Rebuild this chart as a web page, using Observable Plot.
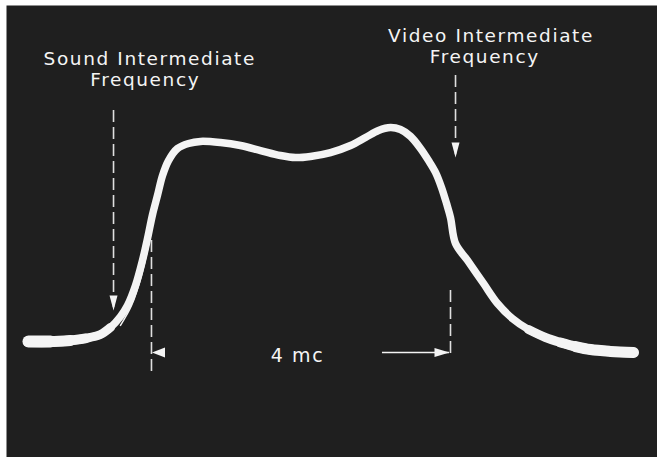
<!DOCTYPE html>
<html><head><meta charset="utf-8">
<script src="https://cdn.jsdelivr.net/npm/d3@7"></script>
<script src="https://cdn.jsdelivr.net/npm/@observablehq/plot@0.6"></script>
<style>html,body{margin:0;padding:0;background:#fff;} svg{display:block}</style>
</head><body><div id="chart"></div>
<script>
// Frequency offset (mc) relative to the left 4-mc marker, and relative response (%)
const freq = [-1.627,-1.333,-1.067,-0.867,-0.667,-0.533,-0.4,-0.307,-0.2,-0.107,-0.04,0.027,0.093,0.16,0.24,0.36,0.507,0.667,0.933,1.2,1.467,1.733,1.933,2.133,2.4,2.667,2.867,3.04,3.2,3.333,3.467,3.6,3.707,3.8,3.88,3.947,4.0,4.067,4.227,4.44,4.627,4.827,5.04,5.267,5.467,5.667,5.867,6.133,6.44];
const resp = [6.1,6.1,6.6,7.5,9.2,12.3,17.1,21.9,30.7,41.7,51.3,61.8,70.2,78.9,85.5,90.8,93.0,93.9,93.4,92.1,89.9,87.7,86.8,87.3,89.0,92.1,95.6,98.7,100,99.1,96.1,90.8,85.5,80.3,73.7,66.7,60.5,49.1,41.7,31.6,22.8,16.2,11.4,7.9,5.7,3.9,2.6,1.8,1.3];

// faint double trace on the rising edge
const ghostFreq = [0.0,-0.12,-0.253,-0.4];
const ghostResp = [52.6,35.1,21.9,13.2];

// dashed marker lines
const markerX      = [-0.493, 4.067, 0.013, 4.0];
const markerTop    = [107.5, 122.8, 50.4, 28.5];
const markerBottom = [21, 88, -7.5, 0.9];

// arrow heads
const arrowX   = [-0.493, 4.067, 0.02, 3.987];
const arrowY   = [19.7, 86.8, 1.3, 1.3];
const arrowDir = ["down", "down", "left", "right"];

// horizontal 4 mc arrow shaft
const spanFrom = 3.093, spanTo = 3.987, spanLevel = 1.3;

// labels
const labelText = ["Sound Intermediate", "Frequency", "Video Intermediate", "Frequency", "4 mc"];
const labelX    = [-0.01, -0.07, 4.54, 4.457, 1.96];
const labelY    = [130.2, 120.6, 140.3, 130.7, 0.0];
const labelSize = [18.5, 18.5, 18.5, 18.5, 19];

const trace = freq.map((f, i) => ({f, r: resp[i]}));
const ghost = ghostFreq.map((f, i) => ({f, r: ghostResp[i]}));
const markers = markerX.map((x, i) => ({x, y1: markerTop[i], y2: markerBottom[i]}));
const arrows = arrowX.map((x, i) => ({x, y: arrowY[i], dir: arrowDir[i]}));
const labels = labelText.map((t, i) => ({t, x: labelX[i], y: labelY[i], s: labelSize[i]}));

function head(dir, w, h) {
  return {draw(ctx) {
    if (dir === "down") { ctx.moveTo(0,0); ctx.lineTo(-w/2,-h); ctx.lineTo(w/2,-h); }
    else if (dir === "left") { ctx.moveTo(0,0); ctx.lineTo(h,-w/2); ctx.lineTo(h,w/2); }
    else { ctx.moveTo(0,0); ctx.lineTo(-h,-w/2); ctx.lineTo(-h,w/2); }
    ctx.closePath();
  }};
}

const ink = "#f4f4f4";
const font = "'DejaVu Sans', sans-serif";

// the trace glows thicker where the beam lingers on the flat tails
const tailLayers = [
  {test: d => d.f <= -0.5 || d.f >= 5.0, w: 9},
  {test: d => d.f <= -0.75 || d.f >= 5.3, w: 10},
  {test: d => d.f <= -1.05 || d.f >= 5.6, w: 11},
  {test: d => d.f <= -1.3, w: 12}
];
const tailMarks = tailLayers.flatMap(({test, w}) => [
  Plot.line(trace, {filter: d => test(d) && d.f < 2, x: "f", y: "r", stroke: ink, strokeWidth: w, curve: "catmull-rom", strokeLinecap: "round"}),
  Plot.line(trace, {filter: d => test(d) && d.f > 2, x: "f", y: "r", stroke: ink, strokeWidth: w, curve: "catmull-rom", strokeLinecap: "round"})
]);

const chart = Plot.plot({
  width: 657, height: 457,
  marginLeft: 6, marginTop: 5, marginRight: 0, marginBottom: 0,
  x: {domain: [-1.92, 6.76], axis: null},
  y: {domain: [-44.74, 153.51], axis: null},
  style: {background: "#ffffff", fontFamily: font, letterSpacing: "1.6px"},
  marks: [
    Plot.frame({fill: "#1f1f1f", stroke: "none"}),
    Plot.ruleX(markers, {x: "x", y1: "y1", y2: "y2", stroke: ink, strokeWidth: 1.6, strokeDasharray: "12,5", strokeOpacity: 0.9}),
    Plot.ruleY([spanLevel], {x1: spanFrom, x2: spanTo, stroke: ink, strokeWidth: 1.6}),
    Plot.line(ghost, {x: "f", y: "r", stroke: ink, strokeWidth: 1.5, curve: "catmull-rom"}),
    Plot.line(trace, {x: "f", y: "r", stroke: ink, strokeWidth: 7.5, curve: "catmull-rom", strokeLinecap: "round", strokeLinejoin: "round"}),
    ...tailMarks,
    Plot.dot(arrows, {filter: d => d.dir === "down", x: "x", y: "y", symbol: head("down", 8, 15), fill: ink, stroke: "none", r: 4}),
    Plot.dot(arrows, {filter: d => d.dir === "left", x: "x", y: "y", symbol: head("left", 10, 13), fill: ink, stroke: "none", r: 4}),
    Plot.dot(arrows, {filter: d => d.dir === "right", x: "x", y: "y", symbol: head("right", 9, 15), fill: ink, stroke: "none", r: 4}),
    Plot.text(labels, {x: "x", y: "y", text: "t", fontSize: "s", fill: ink, fontFamily: font})
  ]
});
document.getElementById("chart").appendChild(chart);
</script></body></html>
